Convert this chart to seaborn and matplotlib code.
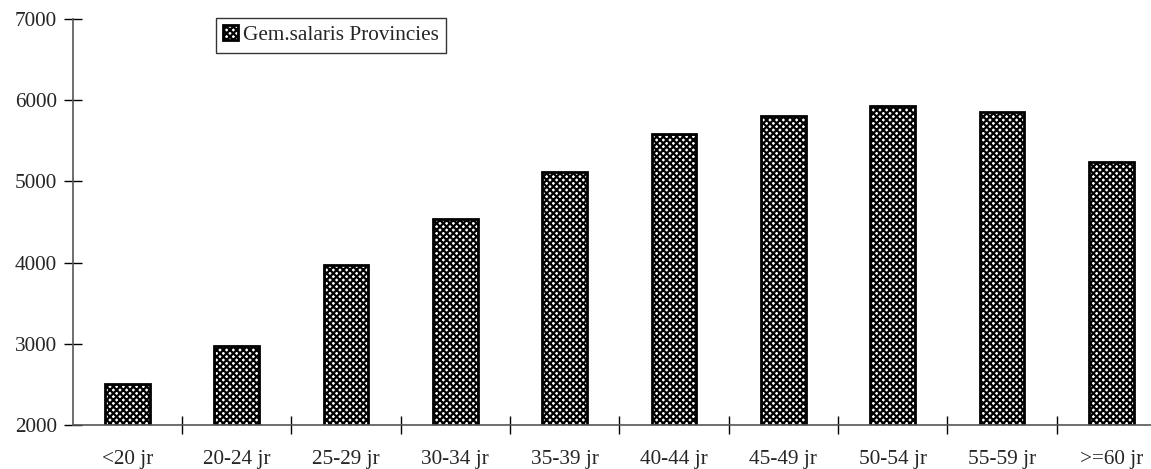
import matplotlib
matplotlib.use("Agg")
import matplotlib.pyplot as plt
import seaborn as sns
import pandas as pd

categories = ["<20 jr", "20-24 jr", "25-29 jr", "30-34 jr", "35-39 jr",
              "40-44 jr", "45-49 jr", "50-54 jr", "55-59 jr", ">=60 jr"]
values = [2505, 2970, 3970, 4535, 5115, 5585, 5800, 5925, 5850, 5245]
series_name = "Gem.salaris Provincies"
yticks = [2000, 3000, 4000, 5000, 6000, 7000]

sns.set_theme(style="white")
plt.rcParams['font.family'] = ['Liberation Serif', 'DejaVu Serif']
plt.rcParams['hatch.linewidth'] = 1.6

df = pd.DataFrame({"cat": categories, "val": values})

fig = plt.figure(figsize=(11.51, 4.69), dpi=100)
ax = fig.add_axes([72.7/1151, 44/469, (1151-72.7)/1151, (425-19)/469])

sns.barplot(data=df, x="cat", y="val", ax=ax, color="white", width=0.41,
            edgecolor="black", linewidth=2, hatch="xxxxx", label=series_name,
            saturation=1)

fs = 15.3
ax.set_ylim(2000, 7000)
ax.set_xlim(-0.5, 9.363)
ax.set_yticks(yticks)
ax.set_yticklabels([str(t) for t in yticks], fontsize=fs)
ax.set_xlabel("")
ax.set_ylabel("")

# x ticks as separators between categories
ax.set_xticks([i + 0.5 for i in range(len(categories) - 1)])
ax.set_xticklabels([])
ax.set_xticks(range(len(categories)), minor=True)
ax.set_xticklabels(categories, minor=True, fontsize=fs)
ax.tick_params(axis='x', which='major', direction='inout', length=13, width=1, color='black', bottom=True)
ax.tick_params(axis='x', which='minor', length=0, pad=18, bottom=True)
ax.tick_params(axis='y', direction='inout', length=13, width=1, color='black', left=True, pad=5)

for s in ['top', 'right']:
    ax.spines[s].set_visible(False)
for s in ['left', 'bottom']:
    ax.spines[s].set_color('#555555')
    ax.spines[s].set_linewidth(1.2)

leg = ax.legend(loc='upper left', bbox_to_anchor=(216/1151, 1 - 18/469),
                bbox_transform=fig.transFigure, borderaxespad=0, fancybox=False,
                frameon=True, edgecolor='black', fontsize=fs,
                handlelength=0.7, handleheight=0.7, handletextpad=0.2,
                borderpad=0.35)
leg.get_frame().set_linewidth(1.0)

fig.savefig("out.png", dpi=100)
